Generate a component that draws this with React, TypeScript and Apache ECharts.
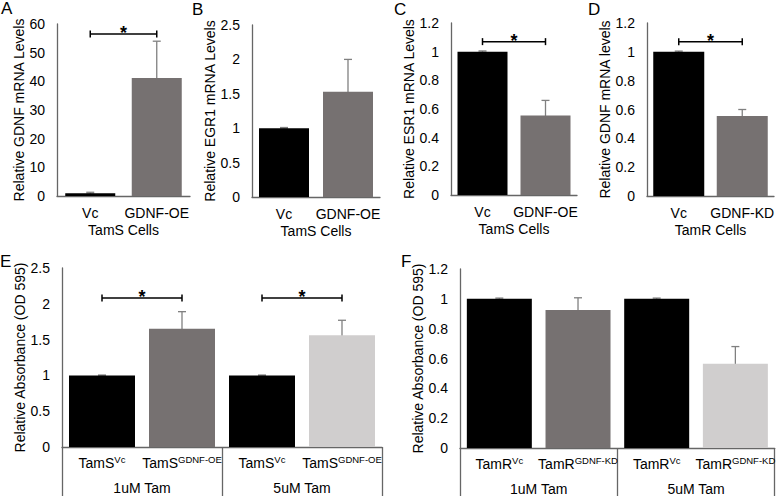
import React, { useEffect, useRef } from 'react';
import * as echarts from 'echarts';

// ---------- data ----------
const catsA = ['Vc', 'GDNF-OE'];
const valsA = [1, 41.2];
const errA = [0.3, 12.8];
const sigA = [[0, 1, 56.5]];

const catsB = ['Vc', 'GDNF-OE'];
const valsB = [1, 1.53];
const errB = [0.01, 0.47];

const catsC = ['Vc', 'GDNF-OE'];
const valsC = [1, 0.555];
const errC = [0.005, 0.105];
const sigC = [[0, 1, 1.07]];

const catsD = ['Vc', 'GDNF-KD'];
const valsD = [1, 0.555];
const errD = [0.005, 0.045];
const sigD = [[0, 1, 1.07]];

const catsE = ['TamS^Vc', 'TamS^GDNF-OE', 'TamS^Vc', 'TamS^GDNF-OE'];
const groupsE = ['1uM Tam', '5uM Tam'];
const valsE = [1, 1.65, 1, 1.56];
const errE = [0.005, 0.24, 0.005, 0.21];
const sigE = [[0, 1, 2.08], [2, 3, 2.08]];

const catsF = ['TamR^Vc', 'TamR^GDNF-KD', 'TamR^Vc', 'TamR^GDNF-KD'];
const groupsF = ['1uM Tam', '5uM Tam'];
const valsF = [1, 0.925, 1, 0.565];
const errF = [0.005, 0.082, 0.005, 0.115];

const yTitleA = 'Relative GDNF mRNA Levels';
const yTitleB = 'Relative EGR1 mRNA Levels';
const yTitleC = 'Relative ESR1 mRNA Levels';
const yTitleD = 'Relative GDNF mRNA levels';
const yTitleEF = 'Relative Absorbance (OD 595)';

// ---------- styles ----------
const FONT = '"Liberation Sans", Arial, Helvetica, sans-serif';
const BLACK = '#000000';
const GRAY = '#767171';
const LIGHT = '#d0cece';
const AXIS = '#666666';
const ERR = '#808080';

const colors2 = [BLACK, GRAY];
const colors4 = [BLACK, GRAY, BLACK, LIGHT];

export default function App() {
  const ref = useRef<HTMLDivElement>(null);
  useEffect(() => {
    if (!ref.current) return;
    const chart = echarts.init(ref.current, undefined, { renderer: 'svg' });

    const grids = [
      { left: 57, top: 24, width: 133, height: 172 },
      { left: 252, top: 25, width: 128, height: 172 },
      { left: 451, top: 23, width: 126, height: 172 },
      { left: 647, top: 23, width: 127, height: 173 },
      { left: 62, top: 268, width: 320, height: 179 },
      { left: 460, top: 269, width: 317, height: 179 },
    ];

    const simpleX = (gi: number, cats: string[], name: string) => ({
      type: 'category',
      gridIndex: gi,
      data: cats,
      axisLine: { show: true, lineStyle: { color: AXIS, width: 1.3 } },
      axisTick: { show: false },
      axisLabel: { color: '#000', fontSize: 14, fontFamily: FONT, margin: 10, interval: 0 },
      name,
      nameLocation: 'middle',
      nameGap: 27,
      nameTextStyle: { color: '#000', fontSize: 14, fontFamily: FONT },
    });

    const supX = (gi: number, cats: string[]) => ({
      type: 'category',
      gridIndex: gi,
      data: cats,
      axisLine: { show: true, lineStyle: { color: AXIS, width: 1.3 } },
      axisTick: { show: false },
      axisLabel: {
        interval: 0,
        margin: 7,
        fontFamily: FONT,
        formatter: (v: string) => {
          const [b, s] = v.split('^');
          return `{base|${b}}{sup|${s}}`;
        },
        rich: {
          base: { fontSize: 14, color: '#000', fontFamily: FONT, lineHeight: 17 },
          sup: { fontSize: 9.5, color: '#000', fontFamily: FONT, lineHeight: 11, verticalAlign: 'top' },
        },
      },
    });

    const groupX = (gi: number, groups: string[]) => ({
      type: 'category',
      gridIndex: gi,
      position: 'bottom',
      data: groups,
      axisLine: { show: false },
      axisTick: { show: true, length: 50, interval: 0, lineStyle: { color: AXIS, width: 1.3 } },
      axisLabel: { color: '#000', fontSize: 14, fontFamily: FONT, margin: 34, interval: 0 },
    });

    const yAx = (gi: number, max: number, interval: number, name: string, gap: number) => ({
      type: 'value',
      gridIndex: gi,
      min: 0,
      max,
      interval,
      splitLine: { show: false },
      axisLine: { show: true, lineStyle: { color: AXIS, width: 1.3 } },
      axisTick: { show: false },
      axisLabel: { color: '#000', fontSize: 14, fontFamily: FONT, margin: 12 },
      name,
      nameLocation: 'middle',
      nameGap: gap,
      nameTextStyle: { color: '#000', fontSize: 14, fontFamily: FONT },
    });

    const barSeries = (xi: number, yi: number, vals: number[], cols: string[], w: number) => ({
      type: 'bar',
      xAxisIndex: xi,
      yAxisIndex: yi,
      barWidth: w,
      silent: true,
      data: vals.map((v, i) => ({ value: v, itemStyle: { color: cols[i] } })),
    });

    const errSeries = (xi: number, yi: number, vals: number[], errs: number[]) => ({
      type: 'custom',
      xAxisIndex: xi,
      yAxisIndex: yi,
      silent: true,
      encode: { x: 0, y: 1 },
      data: vals.map((v, i) => [i, v, errs[i]]),
      renderItem: (params: any, api: any) => {
        const i = api.value(0);
        const v = api.value(1);
        const e = api.value(2);
        const top = api.coord([i, v + e]);
        const bot = api.coord([i, v - e]);
        const cw = 4;
        const st = { stroke: ERR, lineWidth: 1.3 };
        return {
          type: 'group',
          children: [
            { type: 'line', shape: { x1: top[0], y1: top[1], x2: bot[0], y2: bot[1] }, style: st },
            { type: 'line', shape: { x1: top[0] - cw, y1: top[1], x2: top[0] + cw, y2: top[1] }, style: st },
            { type: 'line', shape: { x1: bot[0] - cw, y1: bot[1], x2: bot[0] + cw, y2: bot[1] }, style: st },
          ],
        };
      },
    });

    const sigSeries = (xi: number, yi: number, sigs: number[][]) => ({
      type: 'custom',
      xAxisIndex: xi,
      yAxisIndex: yi,
      silent: true,
      encode: { x: [0, 1], y: 2 },
      data: sigs,
      renderItem: (params: any, api: any) => {
        const a = api.coord([api.value(0), api.value(2)]);
        const b = api.coord([api.value(1), api.value(2)]);
        const st = { stroke: '#000', lineWidth: 1.5 };
        const ch = 3.5;
        return {
          type: 'group',
          children: [
            { type: 'line', shape: { x1: a[0], y1: a[1], x2: b[0], y2: a[1] }, style: st },
            { type: 'line', shape: { x1: a[0], y1: a[1] - ch, x2: a[0], y2: a[1] + ch }, style: st },
            { type: 'line', shape: { x1: b[0], y1: a[1] - ch, x2: b[0], y2: a[1] + ch }, style: st },
            {
              type: 'text',
              x: (a[0] + b[0]) / 2,
              y: a[1] - 1,
              style: {
                text: '*',
                fill: '#000',
                fontSize: 18,
                fontWeight: 'bold',
                fontFamily: FONT,
                align: 'center',
                verticalAlign: 'middle',
              },
            },
          ],
        };
      },
    });

    const letters = [
      ['A', 1, 0], ['B', 192, 1], ['C', 394, 1], ['D', 588, 1], ['E', 0, 253], ['F', 401, 253],
    ];

    chart.setOption({
      animation: false,
      title: letters.map(([t, l, tp]) => ({
        text: t as string,
        left: l as number,
        top: tp as number,
        padding: 0,
        textStyle: { fontSize: 17, fontWeight: 'normal', color: '#000', fontFamily: FONT },
      })),
      grid: grids,
      xAxis: [
        simpleX(0, catsA, 'TamS Cells'),
        simpleX(1, catsB, 'TamS Cells'),
        simpleX(2, catsC, 'TamS Cells'),
        simpleX(3, catsD, 'TamR Cells'),
        supX(4, catsE),
        groupX(4, groupsE),
        supX(5, catsF),
        groupX(5, groupsF),
      ],
      yAxis: [
        yAx(0, 60, 10, yTitleA, 31),
        yAx(1, 2.5, 0.5, yTitleB, 33),
        yAx(2, 1.2, 0.2, yTitleC, 34),
        yAx(3, 1.2, 0.2, yTitleD, 35),
        yAx(4, 2.5, 0.5, yTitleEF, 34),
        yAx(5, 1.2, 0.2, yTitleEF, 31),
      ],
      series: [
        barSeries(0, 0, valsA, colors2, 50),
        errSeries(0, 0, valsA, errA),
        sigSeries(0, 0, sigA),
        barSeries(1, 1, valsB, colors2, 50),
        errSeries(1, 1, valsB, errB),
        barSeries(2, 2, valsC, colors2, 50),
        errSeries(2, 2, valsC, errC),
        sigSeries(2, 2, sigC),
        barSeries(3, 3, valsD, colors2, 51),
        errSeries(3, 3, valsD, errD),
        sigSeries(3, 3, sigD),
        barSeries(4, 4, valsE, colors4, 66),
        errSeries(4, 4, valsE, errE),
        sigSeries(4, 4, sigE),
        barSeries(6, 5, valsF, colors4, 65),
        errSeries(6, 5, valsF, errF),
      ],
    });

    return () => chart.dispose();
  }, []);

  return (
    <div
      ref={ref}
      style={{ position: 'fixed', left: 0, top: 0, width: 778, height: 496, background: '#fff' }}
    />
  );
}
